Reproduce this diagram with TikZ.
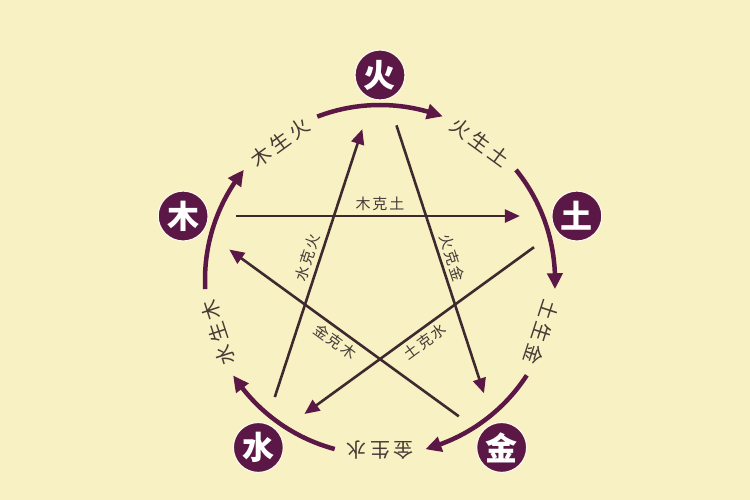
\documentclass[tikz,border=0pt]{standalone}
\usepackage{fontspec}
\newfontfamily\cjk{Noto Sans CJK SC}
\newfontfamily\cjkring[LetterSpace=18]{Noto Sans CJK SC}
\newfontfamily\cjkstar[LetterSpace=12]{Noto Sans CJK SC}
\usetikzlibrary{arrows.meta,bending}
\definecolor{cream}{HTML}{F8F1C3}
\definecolor{plum}{HTML}{5B1846}
\definecolor{starline}{HTML}{3E2A2E}
\definecolor{labelgray}{HTML}{453A36}
\tikzset{>=Triangle}
\tikzset{
  elem/.style={circle,fill=plum,draw=white!60!cream,line width=1.2pt,minimum size=50pt,
    inner sep=0pt,text=white,font=\cjk\bfseries\fontsize{32}{32}\selectfont},
  sheng/.style={draw=plum,line width=4.5pt,-{Triangle[length=16pt,width=15pt,bend]}},
  ke/.style={draw=starline,line width=2.6pt,shorten <=53pt,shorten >=57pt,
    -{Triangle[length=15pt,width=13pt,color=plum]}},
  kelabel/.style={text=labelgray,inner sep=4pt,font=\cjkstar\fontsize{15}{15}\selectfont},
  ringlabel/.style={text=labelgray,inner sep=0pt,font=\cjkring\fontsize{20}{20}\selectfont}
}

\begin{document}
\begin{tikzpicture}[x=1pt,y=1pt]
    \fill[cream] (-380,-220) rectangle (370,280);
    \useasboundingbox (-380,-220) rectangle (370,280);
    % five elements
    \node[elem] (huo) at (90:205) {火};
    \node[elem] (tu) at (18:207) {土};
    \node[elem] (jin) at (-54:207) {金};
    \node[elem] (shui) at (-126:207) {水};
    \node[elem] (mu) at (162:207) {木};
    % ke cycle
    \draw[ke] (mu.center) -- node[kelabel,above] {木克土} (tu.center);
    \draw[ke] (shui.center) -- node[kelabel,sloped,above] {水克火} (huo.center);
    \draw[ke] (huo.center) -- node[kelabel,sloped,above] {火克金} (jin.center);
    \draw[ke] (jin.center) -- node[kelabel,sloped,below] {金克木} (mu.center);
    \draw[ke] (tu.center) -- node[kelabel,sloped,below] {土克水} (shui.center);
    % sheng cycle
    \foreach \a in {111,39,-33,-105,-177}
      \draw[sheng] (\a:175) arc[start angle=\a,end angle=\a-42,radius=175];
    \foreach \a/\t in {54/火生土,-18/土生金,-90/金生水,-162/水生木,126/木生火}
      \node[ringlabel,rotate=\a-90] at (\a:170) {\t};
  \end{tikzpicture}
\end{document}
